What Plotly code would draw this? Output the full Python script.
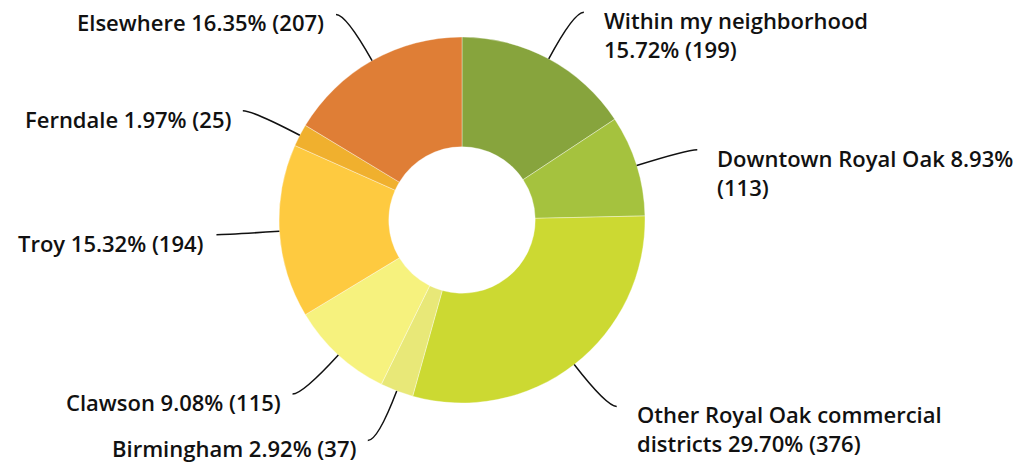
import math
import textwrap
import plotly.graph_objects as go

# Where respondents shop (counts), clockwise from 12 o'clock
labels = [
    "Within my neighborhood",
    "Downtown Royal Oak",
    "Other Royal Oak commercial districts",
    "Birmingham",
    "Clawson",
    "Troy",
    "Ferndale",
    "Elsewhere",
]
counts = [199, 113, 376, 37, 115, 194, 25, 207]
colors = [
    "#87A43D", "#A5C23E", "#CCD932", "#E8E878",
    "#F6F27E", "#FECA40", "#F0B02E", "#DF7E36",
]

W, H = 1025, 465
CX, CY, R = 462, 220, 183          # donut centre / outer radius in px
HOLE = 0.40
RADIAL_LEN, HORIZ_LEN = 53, 10
GAP_RIGHT, GAP_LEFT = 18, 10
FONT = dict(family="Open Sans", size=22, color="#111111", weight=600)

fig = go.Figure(
    go.Pie(
        labels=labels,
        values=counts,
        sort=False,
        direction="clockwise",
        rotation=0,
        hole=HOLE,
        marker=dict(colors=colors, line=dict(color="rgba(255,255,255,0.6)", width=0.6)),
        textinfo="none",
        hoverinfo="label+percent+value",
        domain=dict(x=[(CX - R) / W, (CX + R) / W],
                    y=[(H - CY - R) / H, (H - CY + R) / H]),
    )
)


def px(x, y):
    """Convert pixel coordinates (origin top-left) to paper fractions."""
    return x / W, 1 - y / H


total = sum(counts)
shapes, annotations = [], []
cum = 0
for name, n in zip(labels, counts):
    mid = (cum + n / 2) / total * 2 * math.pi
    cum += n
    dx, dy = math.sin(mid), -math.cos(mid)
    side = 1 if dx >= 0 else -1

    x0, y0 = CX + R * dx, CY + R * dy
    xc, yc = x0 + RADIAL_LEN * dx, y0 + RADIAL_LEN * dy
    x1, y1 = xc + side * HORIZ_LEN, yc

    p0, pc, p1 = px(x0, y0), px(xc, yc), px(x1, y1)
    shapes.append(dict(
        type="path", xref="paper", yref="paper",
        path=f"M {p0[0]},{p0[1]} Q {pc[0]},{pc[1]} {p1[0]},{p1[1]}",
        line=dict(color="#111111", width=1.5),
    ))

    pct = n / total * 100
    text = "<br>".join(textwrap.wrap(f"{name} {pct:.2f}% ({n})", 26))
    gap = GAP_RIGHT if side > 0 else GAP_LEFT
    tx, ty = px(x1 + side * gap, y1 - 9)
    annotations.append(dict(
        x=tx, y=ty, xref="paper", yref="paper",
        text=text, showarrow=False, align="left",
        xanchor="left" if side > 0 else "right", yanchor="top",
        font=FONT,
    ))

fig.update_layout(
    width=W, height=H,
    margin=dict(l=0, r=0, t=0, b=0),
    paper_bgcolor="white",
    plot_bgcolor="white",
    showlegend=False,
    shapes=shapes,
    annotations=annotations,
)

fig.write_html("out.html")
